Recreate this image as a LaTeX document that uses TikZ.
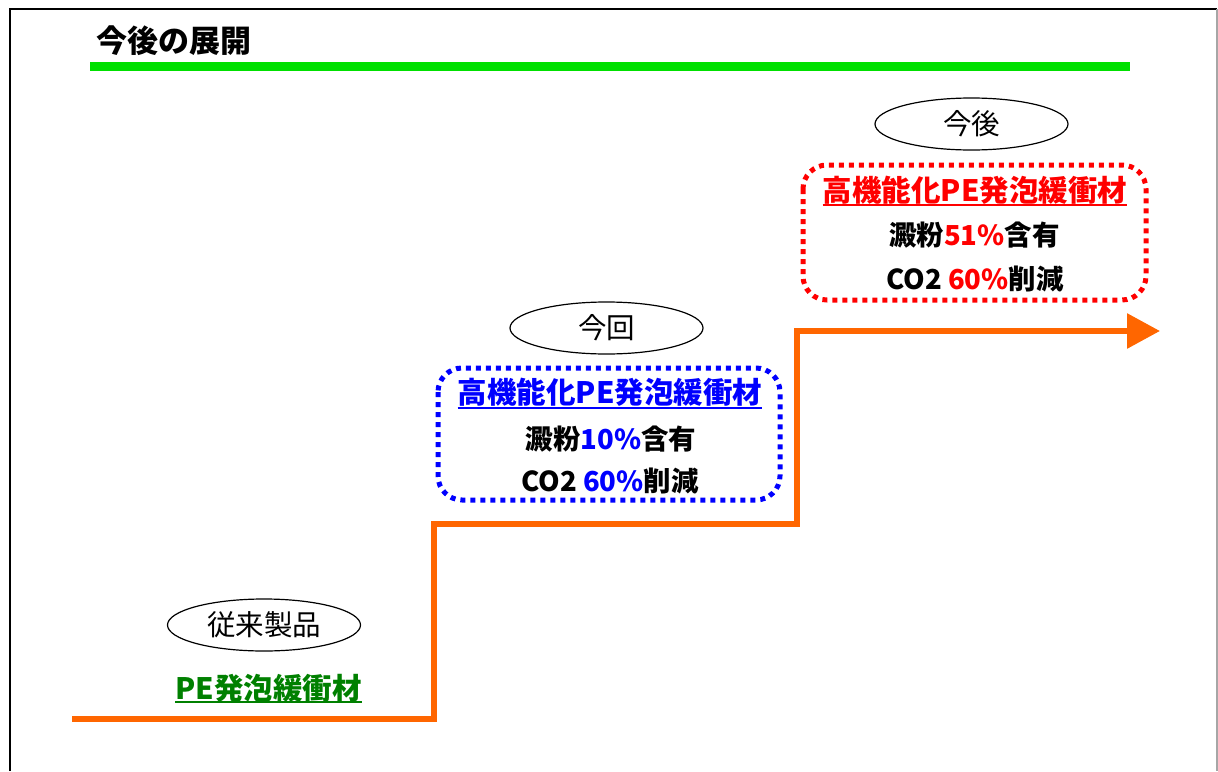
\documentclass[tikz,border=0pt]{standalone}
\usepackage{fontspec}
\setmainfont{Noto Sans CJK JP}
\usetikzlibrary{arrows.meta,shapes.geometric}
\definecolor{orng}{HTML}{FF6600}
\definecolor{lgreen}{HTML}{00E000}
\definecolor{dgreen}{HTML}{008000}
\definecolor{rred}{HTML}{FF0000}
\definecolor{bblue}{HTML}{0000FF}
\tikzset{
  oval/.style={draw=black, line width=1.2pt, ellipse, minimum width=193pt, minimum height=52pt, inner sep=0pt, font=\fontsize{28.5}{32}\selectfont},
  txt/.style={inner sep=0pt, font=\bfseries\fontsize{27.5}{32}\selectfont},
  hdr/.style={inner sep=0pt, font=\bfseries\fontsize{29.5}{34}\selectfont},
  dotbox/.style={line width=5pt, dash pattern=on 5pt off 5pt, rounded corners=24pt},
  stepline/.style={draw=orng, line width=6pt, line join=miter, -{Triangle[length=33pt,width=34pt]}},
  uline/.style={line width=2.5pt}
}
\begin{document}
\begin{tikzpicture}[x=1pt,y=-1pt]
\useasboundingbox (0,0) rectangle (1218,771);
% frame
\draw[black, line width=2pt] (10,771) -- (10,9) -- (1217,9);
\draw[black!35, line width=1.2pt] (1217,9) -- (1217,771);
% title
\node[inner sep=0pt, anchor=west, font=\bfseries\fontsize{31}{35}\selectfont] (title) at (96,41) {今後の展開};
\coordinate (gl0) at (90,66.5);
\coordinate (gl1) at (1130,66.5);
\draw[lgreen, line width=9pt] (gl0) -- (gl1);
% step line
\coordinate (s0) at (72,719);
\coordinate (s1) at (434,719);
\coordinate (s2) at (434,524);
\coordinate (s3) at (797,524);
\coordinate (s4) at (797,331);
\coordinate (s5) at (1160,331);
\draw[stepline] (s0) -- (s1) -- (s2) -- (s3) -- (s4) -- (s5);
% stage 1
\node[oval] (o1) at (264,625) {従来製品};
\node[hdr, text=dgreen] (g1) at (268.5,688.5) {PE発泡緩衝材};
\coordinate (gu) at (0,702);
\draw[dgreen, uline] (g1.west |- gu) -- (g1.east |- gu);
% stage 2
\node[oval] (o2) at (606.5,328) {今回};
\draw[bblue, dotbox] (438,368) rectangle (780,500);
\node[hdr, text=bblue] (b1) at (610,392.5) {高機能化PE発泡緩衝材};
\coordinate (bu) at (0,408);
\draw[bblue, uline] (b1.west |- bu) -- (b1.east |- bu);
\node[txt] (b2) at (611,439.5) {澱粉\textcolor{bblue}{10\%}含有};
\node[txt] (b3) at (610,481.5) {CO2 \textcolor{bblue}{60\%}削減};
% stage 3
\node[oval] (o3) at (971.5,124) {今後};
\draw[rred, dotbox] (803,165) rectangle (1146,300);
\node[hdr, text=rred] (r1) at (975,190.5) {高機能化PE発泡緩衝材};
\coordinate (ru) at (0,205);
\draw[rred, uline] (r1.west |- ru) -- (r1.east |- ru);
\node[txt] (r2) at (974.5,235) {澱粉\textcolor{rred}{51\%}含有};
\node[txt] (r3) at (975,279.5) {CO2 \textcolor{rred}{60\%}削減};
\end{tikzpicture}
\end{document}
